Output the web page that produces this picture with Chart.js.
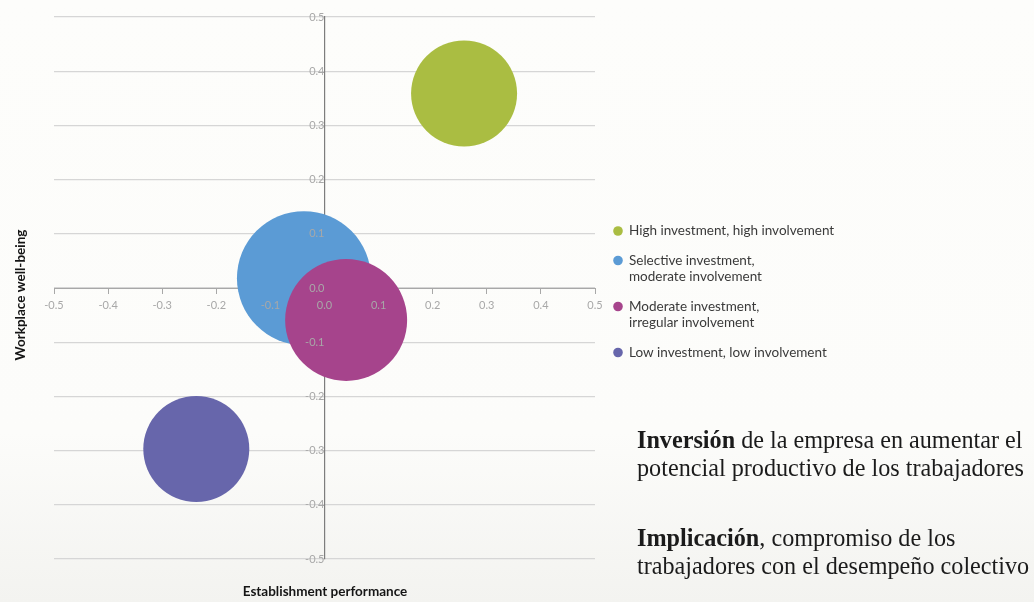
<!DOCTYPE html>
<html>
<head>
<meta charset="utf-8">
<title>Workplace well-being vs establishment performance</title>
<script src="https://cdn.jsdelivr.net/npm/chart.js@4.4.1/dist/chart.umd.min.js"></script>
<style>
  html, body { margin: 0; padding: 0; width: 1034px; height: 602px; overflow: hidden; }
  body { background: linear-gradient(#fdfdfb 0%, #fcfcfa 72%, #f3f3f0 100%); }
  #wrap { position: relative; width: 1034px; height: 602px; }
  #wrap canvas { position: absolute; left: 0; top: 0; }
  .note { position: absolute; font-family: "Liberation Serif", "Times New Roman", serif;
          font-size: 24.2px; line-height: 28px; color: #1b1b1b; white-space: nowrap; }
  .note b { font-weight: bold; }
</style>
</head>
<body>
<div id="wrap">
  <canvas id="chart" width="1034" height="602"></canvas>
  <div class="note" style="left:637px; top:426px;"><b>Inversión</b> de la empresa en aumentar el<br>potencial productivo de los trabajadores</div>
  <div class="note" style="left:637px; top:524px;"><b>Implicación</b>, compromiso de los<br>trabajadores con el desempeño colectivo</div>
</div>
<script>
// Four workplace clusters: performance (x) against well-being (y), bubble radius in px
const clusterNames = [
  ['High investment, high involvement'],
  ['Selective investment,', 'moderate involvement'],
  ['Moderate investment,', 'irregular involvement'],
  ['Low investment, low involvement']
];
const performance = [0.258, -0.038, 0.040, -0.237];
const wellBeing   = [0.359, 0.018, -0.059, -0.297];
const bubbleSize  = [53, 67, 61, 53];
const clusterColors = ['#aabd42', '#5b9bd5', '#a6448c', '#6766ab'];
// the overlapping cluster is painted above its neighbour
const drawOrder = [1, 1, 0, 1];

const axisMin = -0.5, axisMax = 0.5, axisStep = 0.1;
const xTitle = 'Establishment performance';
const yTitle = 'Workplace well-being';

const fmt = v => {
  const s = Number(v).toFixed(1);
  return s === '-0.0' ? '0.0' : s;
};

const datasets = clusterNames.map((name, i) => ({
  label: name.join(' '),
  data: [{ x: performance[i], y: wellBeing[i], r: bubbleSize[i] }],
  backgroundColor: clusterColors[i],
  hoverBackgroundColor: clusterColors[i],
  borderWidth: 0,
  hoverBorderWidth: 0,
  order: drawOrder[i]
}));

// Axis titles and the side legend are painted straight onto the canvas
const decorations = {
  id: 'decorations',
  afterDraw(chart) {
    const ctx = chart.ctx;
    ctx.save();
    ctx.fillStyle = '#151515';
    ctx.font = 'bold 13.5px Lato, "Open Sans", sans-serif';
    ctx.textAlign = 'center';
    ctx.textBaseline = 'middle';
    ctx.fillText(xTitle, 325, 592);
    ctx.translate(21, 295);
    ctx.rotate(-Math.PI / 2);
    ctx.fillText(yTitle, 0, 0);
    ctx.restore();

    ctx.save();
    ctx.font = '13.5px Lato, "Open Sans", sans-serif';
    ctx.textBaseline = 'middle';
    ctx.textAlign = 'left';
    const lh = 16.5, gap = 13;
    let y = 231;
    clusterNames.forEach((lines, i) => {
      ctx.fillStyle = clusterColors[i];
      ctx.beginPath();
      ctx.arc(618, y, 4.8, 0, Math.PI * 2);
      ctx.fill();
      ctx.fillStyle = '#3a3a3a';
      lines.forEach((t, k) => ctx.fillText(t, 629, y + k * lh));
      y += lines.length * lh + gap;
    });
    ctx.restore();
  }
};

new Chart(document.getElementById('chart'), {
  type: 'bubble',
  data: { datasets },
  plugins: [decorations],
  options: {
    responsive: false,
    animation: false,
    events: [],
    layout: { autoPadding: false, padding: { left: 54, top: 17, right: 439, bottom: 43 } },
    plugins: { legend: { display: false }, tooltip: { enabled: false } },
    scales: {
      x: {
        type: 'linear',
        min: axisMin, max: axisMax,
        position: { y: 0 },
        afterFit(scale) {
          scale.height = 0;
          scale.paddingLeft = scale.paddingRight = scale.paddingTop = scale.paddingBottom = 0;
        },
        ticks: {
          stepSize: axisStep, autoSkip: false, maxRotation: 0,
          callback: v => fmt(v),
          color: '#a8a8a8',
          font: { family: 'Lato, "Open Sans", sans-serif', size: 11 },
          padding: 6,
          z: 1
        },
        grid: { drawOnChartArea: false, drawTicks: true, tickLength: 5, color: '#a8a8a8' },
        border: { color: '#a8a8a8', width: 1 }
      },
      y: {
        type: 'linear',
        min: axisMin, max: axisMax,
        position: { x: 0 },
        afterFit(scale) {
          scale.width = 0;
          scale.paddingLeft = scale.paddingRight = scale.paddingTop = scale.paddingBottom = 0;
        },
        ticks: {
          stepSize: axisStep, autoSkip: false,
          callback: v => fmt(v),
          color: '#a8a8a8',
          font: { family: 'Lato, "Open Sans", sans-serif', size: 11 },
          padding: 6,
          z: 1
        },
        grid: { drawOnChartArea: true, drawTicks: true, tickLength: 5, color: '#d6d6d6', lineWidth: 1.2 },
        border: { color: '#7d7d7d', width: 1.2 }
      }
    }
  }
});
</script>
</body>
</html>
